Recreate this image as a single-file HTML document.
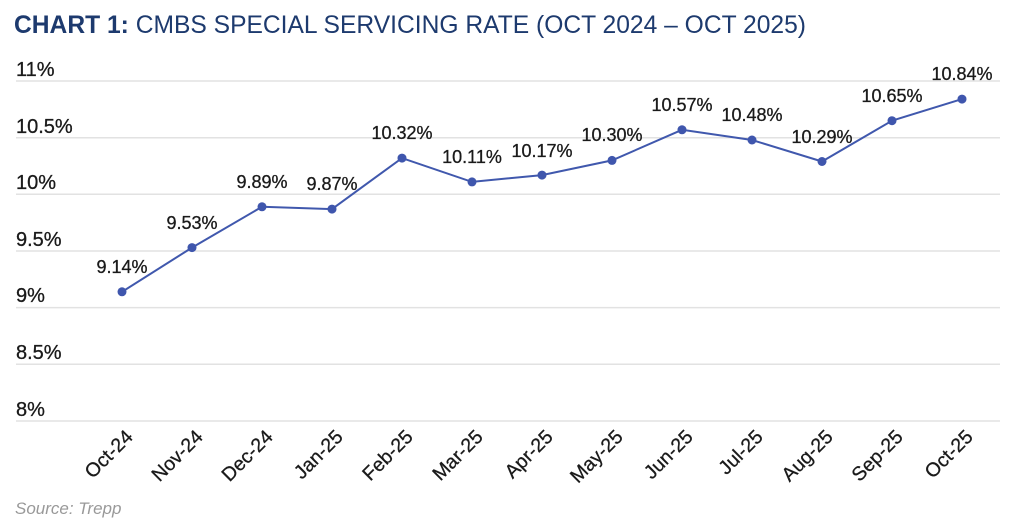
<!DOCTYPE html>
<html><head><meta charset="utf-8"><style>
body{margin:0;background:#fff;width:1024px;height:523px;overflow:hidden}
</style></head><body>
<svg width="1024" height="523" xmlns="http://www.w3.org/2000/svg" font-family="Liberation Sans, sans-serif">
<text x="14" y="33" font-size="25" fill="#1d3a6e" textLength="792" lengthAdjust="spacingAndGlyphs"><tspan font-weight="bold">CHART 1:</tspan> CMBS SPECIAL SERVICING RATE (OCT 2024 – OCT 2025)</text>
<g stroke="#e2e2e2" stroke-width="1.5">
<line x1="16" x2="1000" y1="81" y2="81"/><line x1="16" x2="1000" y1="137.7" y2="137.7"/>
<line x1="16" x2="1000" y1="194.3" y2="194.3"/><line x1="16" x2="1000" y1="251" y2="251"/>
<line x1="16" x2="1000" y1="307.6" y2="307.6"/><line x1="16" x2="1000" y1="364.3" y2="364.3"/>
<line x1="16" x2="1000" y1="421" y2="421"/></g>
<g font-size="20" fill="#1a1a1a" stroke="#1a1a1a" stroke-width="0.3">
<text x="16" y="76">11%</text><text x="16" y="133">10.5%</text><text x="16" y="189">10%</text>
<text x="16" y="246">9.5%</text><text x="16" y="302">9%</text><text x="16" y="359">8.5%</text><text x="16" y="416">8%</text></g>
<polyline fill="none" stroke="#4058ad" stroke-width="2" points="122,291.8 192,247.6 262,206.8 332,209.1 402,158.1 472,181.9 542,175.1 612,160.4 682,129.8 752,140 822,161.5 892,120.7 962,99.1"/>
<g fill="#3f56ad">
<circle cx="122" cy="291.8" r="4.5"/><circle cx="192" cy="247.6" r="4.5"/><circle cx="262" cy="206.8" r="4.5"/><circle cx="332" cy="209.1" r="4.5"/><circle cx="402" cy="158.1" r="4.5"/><circle cx="472" cy="181.9" r="4.5"/><circle cx="542" cy="175.1" r="4.5"/><circle cx="612" cy="160.4" r="4.5"/><circle cx="682" cy="129.8" r="4.5"/><circle cx="752" cy="140" r="4.5"/><circle cx="822" cy="161.5" r="4.5"/><circle cx="892" cy="120.7" r="4.5"/><circle cx="962" cy="99.1" r="4.5"/></g>
<g font-size="18" fill="#1a1a1a" stroke="#1a1a1a" stroke-width="0.3" text-anchor="middle">
<text x="122" y="273">9.14%</text><text x="192" y="229">9.53%</text><text x="262" y="188">9.89%</text><text x="332" y="190">9.87%</text><text x="402" y="139">10.32%</text><text x="472" y="163">10.11%</text><text x="542" y="157">10.17%</text><text x="612" y="141">10.30%</text><text x="682" y="111">10.57%</text><text x="752" y="121">10.48%</text><text x="822" y="143">10.29%</text><text x="892" y="102">10.65%</text><text x="962" y="80">10.84%</text></g>
<g font-size="19.5" fill="#1a1a1a" stroke="#1a1a1a" stroke-width="0.3" text-anchor="end">
<text transform="translate(134,438) rotate(-45)">Oct-24</text>
<text transform="translate(204,438) rotate(-45)">Nov-24</text>
<text transform="translate(274,438) rotate(-45)">Dec-24</text>
<text transform="translate(344,438) rotate(-45)">Jan-25</text>
<text transform="translate(414,438) rotate(-45)">Feb-25</text>
<text transform="translate(484,438) rotate(-45)">Mar-25</text>
<text transform="translate(554,438) rotate(-45)">Apr-25</text>
<text transform="translate(624,438) rotate(-45)">May-25</text>
<text transform="translate(694,438) rotate(-45)">Jun-25</text>
<text transform="translate(764,438) rotate(-45)">Jul-25</text>
<text transform="translate(834,438) rotate(-45)">Aug-25</text>
<text transform="translate(904,438) rotate(-45)">Sep-25</text>
<text transform="translate(974,438) rotate(-45)">Oct-25</text></g>
<text x="15" y="514" font-size="17" font-style="italic" fill="#999">Source: Trepp</text>
</svg>
</body></html>
